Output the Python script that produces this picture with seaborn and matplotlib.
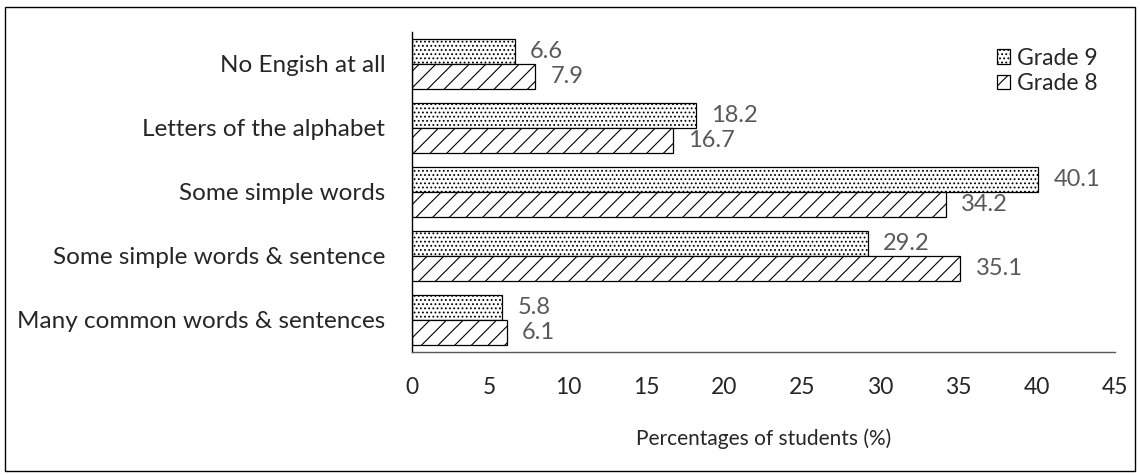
import matplotlib
matplotlib.use("Agg")
import matplotlib.pyplot as plt
import pandas as pd
import seaborn as sns
from matplotlib.patches import Rectangle

categories = [
    "No Engish at all",
    "Letters of the alphabet",
    "Some simple words",
    "Some simple words & sentence",
    "Many common words & sentences",
]
grade9 = [6.6, 18.2, 40.1, 29.2, 5.8]
grade8 = [7.9, 16.7, 34.2, 35.1, 6.1]
grades = ["Grade 9", "Grade 8"]
hatches = ["....", "//"]

df = pd.DataFrame({
    "category": categories * 2,
    "value": grade9 + grade8,
    "grade": [grades[0]] * len(categories) + [grades[1]] * len(categories),
})

sns.set_style("white")
plt.rcParams["font.family"] = ["Lato", "DejaVu Sans"]
plt.rcParams["hatch.linewidth"] = 0.8

fig = plt.figure(figsize=(11.4, 4.75), dpi=100)
ax = fig.add_axes([0.361, 0.259, 0.617, 0.674])

sns.barplot(
    data=df, y="category", x="value", hue="grade", hue_order=grades,
    orient="h", width=0.78, palette=["white", "white"],
    edgecolor="black", linewidth=0.9, ax=ax,
)

for cont, h in zip(ax.containers, hatches):
    for bar in cont:
        bar.set_hatch(h)
        bar.set_edgecolor("black")
    ax.bar_label(cont, fmt="%.1f", padding=11, fontsize=17, color="#595959")

ax.set_xlim(0, 45)
ax.set_xticks(range(0, 46, 5))
ax.set_ylim(4.5, -0.5)
ax.set_ylabel("")
ax.set_xlabel("Percentages of students (%)", fontsize=15, labelpad=22)
ax.tick_params(axis="x", labelsize=16.5, pad=18, length=0)
ax.tick_params(axis="y", labelsize=17.5, pad=19, length=0)

for s in ["top", "right"]:
    ax.spines[s].set_visible(False)
ax.spines["left"].set_color("black")
ax.spines["left"].set_linewidth(1.0)
ax.spines["bottom"].set_color("#595959")
ax.spines["bottom"].set_linewidth(1.0)

leg = ax.legend(
    loc="upper right", bbox_to_anchor=(1.005, 1.015), frameon=False,
    fontsize=16.5, handlelength=0.6, handleheight=0.6, handletextpad=0.3,
    labelspacing=0.2,
)
for patch, h in zip(leg.get_patches(), ["....", "//"]):
    patch.set_hatch(h)
    patch.set_edgecolor("black")
    patch.set_facecolor("white")

fig.patches.append(Rectangle(
    (0.004, 0.008), 0.992, 0.977, transform=fig.transFigure,
    fill=False, edgecolor="black", linewidth=1.0,
))

fig.savefig("out.png", dpi=100)
